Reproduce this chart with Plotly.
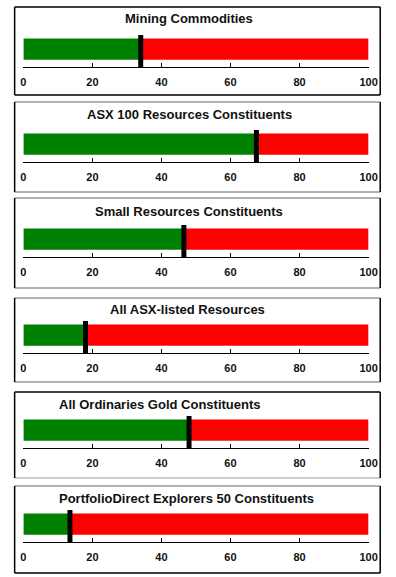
import plotly.graph_objects as go

# ---- data ----
titles = [
    "Mining Commodities",
    "ASX 100 Resources Constituents",
    "Small Resources Constituents",
    "All ASX-listed Resources",
    "All Ordinaries Gold Constituents",
    "PortfolioDirect Explorers 50 Constituents",
]
values = [34, 67.5, 46.5, 18, 48, 13.5]
axis_max = 100
tick_vals = [0, 20, 40, 60, 80, 100]

# ---- layout constants (pixels) ----
W, H = 396, 577
axis_px = [67, 162, 257, 353, 448, 542]
title_px = [19, 115, 211, 309, 404, 498]
title_x_px = [192, 192, 192, 190, 162, 189]
box_px = [(7, 95), (102, 192), (198, 288), (298, 382), (392, 478), (486, 573)]
box_top_col = ["#000", "#999", "#999", "#999", "#000", "#999"]
box_bot_col = ["#000", "#999", "#999", "#999", "#bbb", "#000"]
x_left_px, x_right_px = 21, 377
plot_h = 32

def px(y):
    return 1 - y / H

fig = go.Figure()
shapes = []
annotations = []
FONT = "Liberation Sans, Arial, sans-serif"

for i, (t, v) in enumerate(zip(titles, values)):
    n = i + 1
    xa = "x" if n == 1 else f"x{n}"
    ya = "y" if n == 1 else f"y{n}"
    fig.add_trace(go.Bar(x=[v], y=[0.56], base=[0], orientation="h", width=0.66,
                         marker=dict(color="#008000", line=dict(width=0)),
                         xaxis=xa, yaxis=ya, showlegend=False, hoverinfo="skip"))
    fig.add_trace(go.Bar(x=[axis_max - v], y=[0.56], base=[v], orientation="h", width=0.66,
                         marker=dict(color="#ff0000", line=dict(width=0)),
                         xaxis=xa, yaxis=ya, showlegend=False, hoverinfo="skip"))
    fig.add_trace(go.Scatter(x=[v, v], y=[0, 1], mode="lines",
                             line=dict(color="#000", width=5),
                             xaxis=xa, yaxis=ya, showlegend=False, hoverinfo="skip"))
    a = axis_px[i]
    xkey = "xaxis" if n == 1 else f"xaxis{n}"
    ykey = "yaxis" if n == 1 else f"yaxis{n}"
    fig.layout[xkey] = dict(
        domain=[x_left_px / W, x_right_px / W], range=[0, axis_max],
        anchor=ya, tickvals=tick_vals, ticks="inside", ticklen=4, tickwidth=1,
        tickcolor="#000", showline=True, linecolor="#000", linewidth=1.2,
        showgrid=False, zeroline=False, fixedrange=True, ticklabelstandoff=5,
        tickfont=dict(family=FONT, size=11, color="#111", weight="bold"),
    )
    fig.layout[ykey] = dict(
        domain=[px(a), px(a - plot_h)], range=[0, 1], anchor=xa,
        visible=False, showgrid=False, zeroline=False, fixedrange=True,
    )
    annotations.append(dict(text=f"<b>{t}</b>", x=title_x_px[i] / W, y=px(title_px[i]),
                            xref="paper", yref="paper", showarrow=False,
                            xanchor="center", yanchor="middle",
                            font=dict(family=FONT, size=13, color="#111")))
    top, bot = box_px[i]
    l, r = 12 / W, 389 / W
    shapes += [
        dict(type="line", xref="paper", yref="paper", x0=l, x1=r, y0=px(top), y1=px(top),
             line=dict(color=box_top_col[i], width=1.5)),
        dict(type="line", xref="paper", yref="paper", x0=l, x1=r, y0=px(bot), y1=px(bot),
             line=dict(color=box_bot_col[i], width=1.5)),
        dict(type="line", xref="paper", yref="paper", x0=l, x1=l, y0=px(top), y1=px(bot),
             line=dict(color="#000", width=1.5)),
        dict(type="line", xref="paper", yref="paper", x0=r, x1=r, y0=px(top), y1=px(bot),
             line=dict(color="#000", width=1.5)),
    ]

fig.update_layout(
    width=W, height=H, margin=dict(l=0, r=0, t=0, b=0),
    paper_bgcolor="white", plot_bgcolor="white",
    barmode="overlay", shapes=shapes, annotations=annotations,
)
fig.write_html("out.html", config={"displayModeBar": False},
               post_script="document.body.style.margin='0';document.body.style.overflow='hidden';")
